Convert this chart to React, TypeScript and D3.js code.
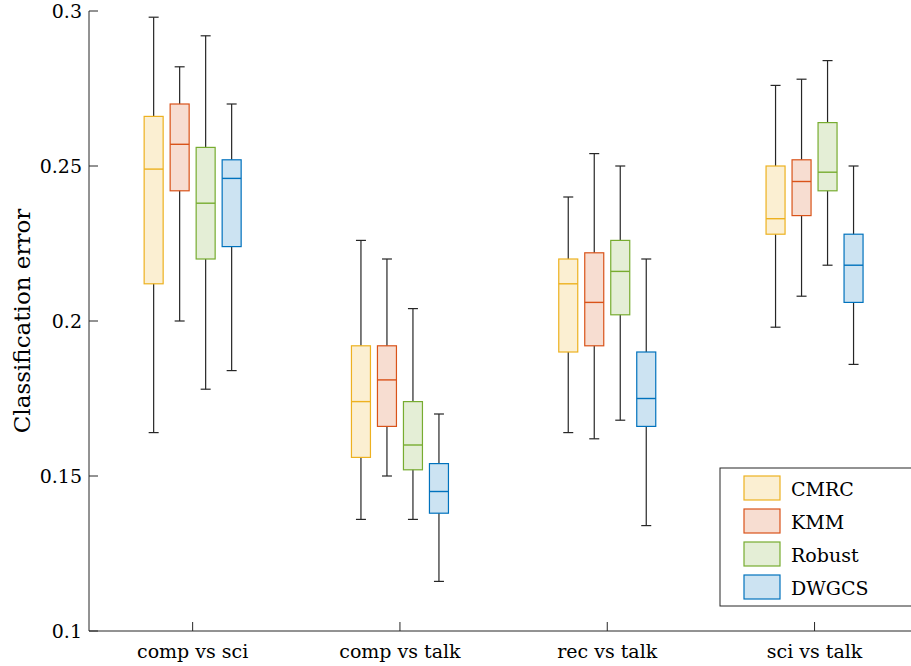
import React from "react";
import * as d3 from "d3";

// categories and methods
const categories = ["comp vs sci", "comp vs talk", "rec vs talk", "sci vs talk"];
const methods = ["CMRC", "KMM", "Robust", "DWGCS"];
const strokeColors = ["#EDB120", "#D95319", "#77AC30", "#0072BD"];
const yTicks = [0.1, 0.15, 0.2, 0.25, 0.3];
const yTickLabels = ["0.1", "0.15", "0.2", "0.25", "0.3"];

// box stats per category, per method: [lower whisker, q1, median, q3, upper whisker]
const compVsSci = [
  [0.164, 0.212, 0.249, 0.266, 0.298],
  [0.2, 0.242, 0.257, 0.27, 0.282],
  [0.178, 0.22, 0.238, 0.256, 0.292],
  [0.184, 0.224, 0.246, 0.252, 0.27],
];
const compVsTalk = [
  [0.136, 0.156, 0.174, 0.192, 0.226],
  [0.15, 0.166, 0.181, 0.192, 0.22],
  [0.136, 0.152, 0.16, 0.174, 0.204],
  [0.116, 0.138, 0.145, 0.154, 0.17],
];
const recVsTalk = [
  [0.164, 0.19, 0.212, 0.22, 0.24],
  [0.162, 0.192, 0.206, 0.222, 0.254],
  [0.168, 0.202, 0.216, 0.226, 0.25],
  [0.134, 0.166, 0.175, 0.19, 0.22],
];
const sciVsTalk = [
  [0.198, 0.228, 0.233, 0.25, 0.276],
  [0.208, 0.234, 0.245, 0.252, 0.278],
  [0.218, 0.242, 0.248, 0.264, 0.284],
  [0.186, 0.206, 0.218, 0.228, 0.25],
];
const groups = [compVsSci, compVsTalk, recVsTalk, sciVsTalk];

const W = 911;
const H = 666;
const left = 89;
const top = 11;
const bottom = 631;
const font = "DejaVu Serif";
const axisColor = "#262626";

export default function App() {
  const y = d3.scaleLinear().domain([0.1, 0.3]).range([bottom, top]);
  const x = d3.scaleLinear().domain([0.5, 4.5]).range([left, left + 4 * 207.3]);
  const offset = d3.scaleBand().domain(methods).range([-52, 52]);
  const bw = 19;
  const cap = 5;

  return (
    <svg width={W} height={H} style={{ position: "absolute", left: 0, top: 0, background: "#fff" }}>
      {/* boxes */}
      {groups.map((g, gi) =>
        g.map((s, mi) => {
          const cx = x(gi + 1) + offset(methods[mi])! + offset.bandwidth() / 2;
          const [lo, q1, med, q3, hi] = s;
          const c = strokeColors[mi];
          return (
            <g key={`${gi}-${mi}`}>
              <line x1={cx} x2={cx} y1={y(hi)} y2={y(q3)} stroke={axisColor} strokeWidth={1.2} />
              <line x1={cx} x2={cx} y1={y(q1)} y2={y(lo)} stroke={axisColor} strokeWidth={1.2} />
              <line x1={cx - cap} x2={cx + cap} y1={y(hi)} y2={y(hi)} stroke={axisColor} strokeWidth={1.2} />
              <line x1={cx - cap} x2={cx + cap} y1={y(lo)} y2={y(lo)} stroke={axisColor} strokeWidth={1.2} />
              <rect
                x={cx - bw / 2}
                y={y(q3)}
                width={bw}
                height={y(q1) - y(q3)}
                fill={c}
                fillOpacity={0.2}
                stroke={c}
                strokeWidth={1.2}
              />
              <line x1={cx - bw / 2} x2={cx + bw / 2} y1={y(med)} y2={y(med)} stroke={c} strokeWidth={1.4} />
            </g>
          );
        })
      )}

      {/* y axis */}
      <line x1={left} x2={left} y1={top} y2={bottom} stroke={axisColor} strokeWidth={1} />
      {yTicks.map((t, i) => (
        <g key={t}>
          <line x1={left} x2={left + 9} y1={y(t)} y2={y(t)} stroke={axisColor} strokeWidth={1} />
          <text
            x={left - 7}
            y={y(t)}
            textAnchor="end"
            dominantBaseline="central"
            fontFamily={font}
            fontSize={19}
            fill="#000"
          >
            {yTickLabels[i]}
          </text>
        </g>
      ))}
      <text
        transform={`translate(22,${(top + bottom) / 2}) rotate(-90)`}
        textAnchor="middle"
        dominantBaseline="central"
        fontFamily={font}
        fontSize={23}
        fill="#000"
      >
        Classification error
      </text>

      {/* x axis */}
      <line x1={left} x2={W} y1={bottom} y2={bottom} stroke={axisColor} strokeWidth={1} />
      {categories.map((c, i) => (
        <g key={c}>
          <line x1={x(i + 1)} x2={x(i + 1)} y1={bottom} y2={bottom - 9} stroke={axisColor} strokeWidth={1} />
          <text
            x={x(i + 1)}
            y={bottom + 20}
            textAnchor="middle"
            dominantBaseline="central"
            fontFamily={font}
            fontSize={19}
            fill="#000"
          >
            {c}
          </text>
        </g>
      ))}

      {/* legend */}
      <rect x={720} y={468} width={200} height={138} fill="#fff" stroke={axisColor} strokeWidth={1} />
      {methods.map((m, i) => (
        <g key={m} transform={`translate(744,${488 + i * 33})`}>
          <rect x={0} y={-12} width={36} height={24} fill={strokeColors[i]} fillOpacity={0.2} stroke={strokeColors[i]} strokeWidth={1.2} />
          <text x={47} y={1} dominantBaseline="central" fontFamily={font} fontSize={19} fill="#000">
            {m}
          </text>
        </g>
      ))}
    </svg>
  );
}
